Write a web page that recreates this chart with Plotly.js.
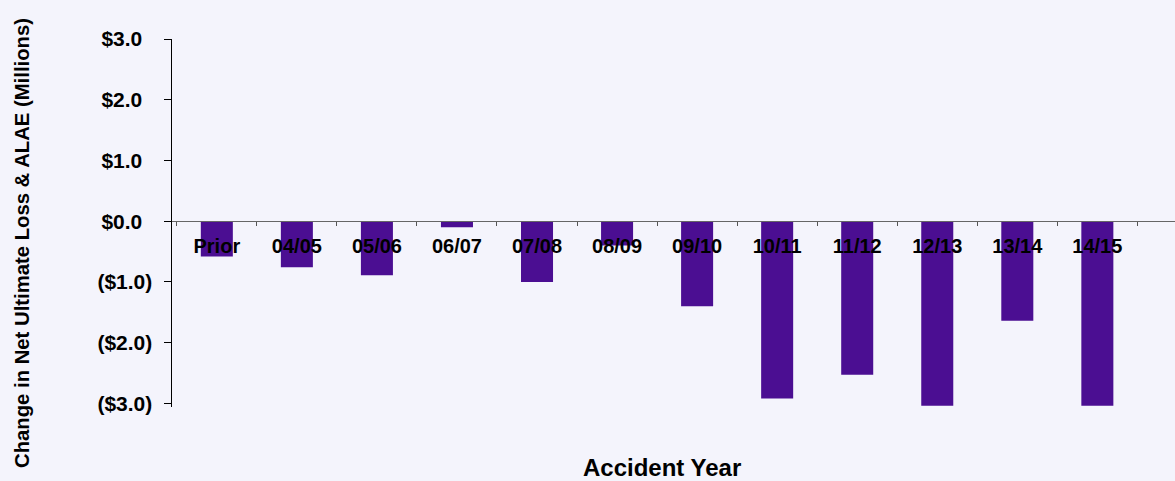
<!DOCTYPE html>
<html>
<head>
<meta charset="utf-8">
<script src="https://cdn.plot.ly/plotly-3.0.1.min.js"></script>
<style>
  html, body { margin: 0; padding: 0; background: #F4F4FC; }
  #chart { width: 1175px; height: 481px; }
</style>
</head>
<body>
<div id="chart"></div>
<script>
// Data
const categories = ["Prior", "04/05", "05/06", "06/07", "07/08", "08/09", "09/10", "10/11", "11/12", "12/13", "13/14", "14/15"];
const changeValues = [-0.58, -0.76, -0.89, -0.10, -1.00, -0.40, -1.40, -2.92, -2.53, -3.04, -1.64, -3.04];
const yTickVals = [3, 2, 1, 0, -1, -2, -3];
const yTickText = ["$3.0\u00A0\u2009", "$2.0\u00A0\u2009", "$1.0\u00A0\u2009", "$0.0\u00A0\u2009", "($1.0)", "($2.0)", "($3.0)"];
const yTitleText = "Change in Net Ultimate Loss & ALAE (Millions)";
const xTitleText = "Accident Year";

const yRange = [-3.06, 3.0];
const zeroPos = (0 - yRange[0]) / (yRange[1] - yRange[0]);
const font = "Liberation Sans, Arial, sans-serif";

const trace = {
  type: "bar",
  x: categories,
  y: changeValues,
  width: 0.4,
  marker: { color: "#4B0E92", line: { width: 0 } },
  hoverinfo: "x+y"
};

const layout = {
  width: 1175,
  height: 481,
  margin: { l: 172, r: 0, t: 39, b: 74 },
  paper_bgcolor: "#F4F4FC",
  plot_bgcolor: "#F4F4FC",
  showlegend: false,
  xaxis: {
    type: "category",
    range: [-0.56, 11.97],
    anchor: "free",
    position: zeroPos,
    showline: true,
    linecolor: "#666666",
    linewidth: 1,
    showgrid: false,
    zeroline: false,
    ticks: "outside",
    tickson: "boundaries",
    ticklen: 4,
    tickcolor: "#555555",
    tickfont: { family: font, size: 20, color: "#000000", weight: "bold" },
    ticklabelstandoff: 7,
    fixedrange: true
  },
  yaxis: {
    range: yRange,
    domain: [0, 1],
    tickvals: yTickVals,
    ticktext: yTickText,
    showline: true,
    linecolor: "#000000",
    linewidth: 1.5,
    showgrid: false,
    zeroline: false,
    ticks: "outside",
    ticklen: 7,
    tickcolor: "#000000",
    tickfont: { family: font, size: 21, color: "#000000", weight: "bold" },
    ticklabelstandoff: 7,
    fixedrange: true
  },
  annotations: [
    {
      text: yTitleText,
      xref: "paper", yref: "paper",
      x: -172 / 1003 + 22 / 1003, y: (481 - 74 - 243) / 368,
      xanchor: "center", yanchor: "middle",
      textangle: -90,
      showarrow: false,
      font: { family: font, size: 20.3, color: "#000000", weight: "bold" }
    },
    {
      text: xTitleText,
      xref: "paper", yref: "paper",
      x: (662 - 172) / 1003, y: (481 - 74 - 467) / 368,
      xanchor: "center", yanchor: "middle",
      showarrow: false,
      font: { family: font, size: 24, color: "#000000", weight: "bold" }
    }
  ]
};

Plotly.newPlot("chart", [trace], layout, { staticPlot: true, displayModeBar: false });
</script>
</body>
</html>
